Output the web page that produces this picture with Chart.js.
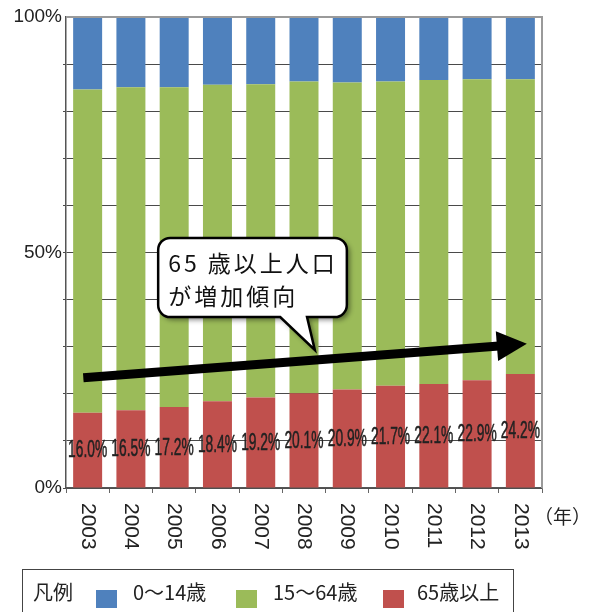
<!DOCTYPE html>
<html>
<head>
<meta charset="utf-8">
<script src="https://cdn.jsdelivr.net/npm/chart.js@4.4.1/dist/chart.umd.min.js"></script>
<style>
  html, body { margin: 0; padding: 0; background: #fff; }
  #wrap { position: relative; width: 592px; height: 612px; overflow: hidden; }
  #legend {
    position: absolute; left: 22px; top: 569px; width: 492px; height: 60px;
    border: 1.5px solid #444; box-sizing: border-box;
    font-family: "Noto Sans CJK JP", sans-serif; font-size: 20px; color: #222;
  }
  #legend span { position: absolute; top: 10px; line-height: 24px; white-space: nowrap; }
  #legend i { position: absolute; top: 20px; width: 21px; height: 18px; }
</style>
</head>
<body>
<div id="wrap">
  <canvas id="ageChart" width="592" height="612"></canvas>
  <div id="legend">
    <span style="left:10px">凡例</span>
    <i style="left:73px;background:#4f81bd"></i>
    <span style="left:110px">0～14歳</span>
    <i style="left:213px;background:#9bbb59"></i>
    <span style="left:250px">15～64歳</span>
    <i style="left:360px;background:#c0504d"></i>
    <span style="left:394px">65歳以上</span>
  </div>
</div>
<script>
// Years on the x axis
const years = ['2003', '2004', '2005', '2006', '2007', '2008', '2009', '2010', '2011', '2012', '2013'];

// Share of population by age group (%)
const age65plus = [16.0, 16.5, 17.2, 18.4, 19.2, 20.1, 20.9, 21.7, 22.1, 22.9, 24.2];
const age15to64 = [68.6, 68.6, 67.9, 67.2, 66.5, 66.2, 65.2, 64.6, 64.5, 63.9, 62.6];
const age0to14 = [15.4, 14.9, 14.9, 14.4, 14.3, 13.7, 13.9, 13.7, 13.4, 13.2, 13.2];

// Y tick labels that are shown
const yTickLabels = [0, 50, 100];

const numFont = '"Liberation Sans", Arial, sans-serif';
const jpFont = '"Noto Sans CJK JP", sans-serif';

// Percent labels inside the red bars, condensed like the original
const redLabels = {
    id: 'redLabels',
    afterDatasetsDraw(chart) {
        const ctx = chart.ctx;
        const meta = chart.getDatasetMeta(0);
        ctx.save();
        ctx.fillStyle = '#222';
        ctx.strokeStyle = '#222';
        ctx.lineWidth = 0.5;
        ctx.font = '23px ' + numFont;
        ctx.textAlign = 'center';
        ctx.textBaseline = 'middle';
        meta.data.forEach((bar, i) => {
            const cy = (bar.y + bar.base) / 2 + 1;
            ctx.save();
            ctx.translate(bar.x, cy);
            ctx.scale(0.6, 1);
            const txt = age65plus[i].toFixed(1) + '%';
            ctx.fillText(txt, 0, 0);
            ctx.strokeText(txt, 0, 0);
            ctx.restore();
        });
        ctx.restore();
    }
};

// Rotated year labels, frame, arrow and callout
const extras = {
    id: 'extras',
    afterDraw(chart) {
        const ctx = chart.ctx;
        const xs = chart.scales.x, ys = chart.scales.y;
        const area = chart.chartArea;
        ctx.save();

        // frame top / right
        ctx.strokeStyle = '#9a9a9a';
        ctx.lineWidth = 2;
        ctx.beginPath();
        ctx.moveTo(area.left, area.top);
        ctx.lineTo(area.right, area.top);
        ctx.lineTo(area.right, area.bottom);
        ctx.stroke();

        // year labels reading top to bottom
        ctx.fillStyle = '#222';
        ctx.font = '21px ' + numFont;
        ctx.textAlign = 'left';
        ctx.textBaseline = 'middle';
        years.forEach((y, i) => {
            ctx.save();
            ctx.translate(xs.getPixelForValue(i), area.bottom + 15);
            ctx.rotate(Math.PI / 2);
            ctx.fillText(y, 0, 0);
            ctx.restore();
        });
        ctx.font = '19px ' + jpFont;
        ctx.fillText('（年）', area.right - 8, area.bottom + 29);

        // trend arrow
        const x0 = xs.getPixelForValue(-0.1), y0 = ys.getPixelForValue(23.4);
        const x1 = xs.getPixelForValue(10.15), y1 = ys.getPixelForValue(30.6);
        const ang = Math.atan2(y1 - y0, x1 - x0);
        const headLen = 30, headW = 15;
        const bx = x1 - headLen * Math.cos(ang), by = y1 - headLen * Math.sin(ang);
        ctx.strokeStyle = '#000';
        ctx.lineWidth = 9;
        ctx.beginPath();
        ctx.moveTo(x0, y0);
        ctx.lineTo(bx + 2 * Math.cos(ang), by + 2 * Math.sin(ang));
        ctx.stroke();
        ctx.fillStyle = '#000';
        ctx.beginPath();
        ctx.moveTo(x1, y1);
        ctx.lineTo(bx + headW * Math.sin(ang), by - headW * Math.cos(ang));
        ctx.lineTo(bx - headW * Math.sin(ang), by + headW * Math.cos(ang));
        ctx.closePath();
        ctx.fill();

        // callout bubble
        const L = xs.getPixelForValue(1.63), R = xs.getPixelForValue(5.99);
        const T = ys.getPixelForValue(53.1), B = ys.getPixelForValue(36.3);
        const r = 12;
        const t1 = xs.getPixelForValue(4.45), t2 = xs.getPixelForValue(5.07);
        const tipX = xs.getPixelForValue(5.25), tipY = ys.getPixelForValue(29.3);
        ctx.beginPath();
        ctx.moveTo(L + r, T);
        ctx.lineTo(R - r, T);
        ctx.arcTo(R, T, R, T + r, r);
        ctx.lineTo(R, B - r);
        ctx.arcTo(R, B, R - r, B, r);
        ctx.lineTo(t2, B);
        ctx.lineTo(tipX, tipY);
        ctx.lineTo(t1, B);
        ctx.lineTo(L + r, B);
        ctx.arcTo(L, B, L, B - r, r);
        ctx.lineTo(L, T + r);
        ctx.arcTo(L, T, L + r, T, r);
        ctx.closePath();
        ctx.save();
        ctx.shadowColor = 'rgba(0,0,0,0.45)';
        ctx.shadowBlur = 5;
        ctx.shadowOffsetX = 3;
        ctx.shadowOffsetY = 3;
        ctx.fillStyle = '#fff';
        ctx.fill();
        ctx.restore();
        ctx.lineWidth = 2.5;
        ctx.strokeStyle = '#000';
        ctx.stroke();

        ctx.fillStyle = '#111';
        ctx.font = '23px ' + jpFont;
        ctx.letterSpacing = '3px';
        ctx.textAlign = 'left';
        ctx.textBaseline = 'middle';
        ctx.fillText('65 歳以上人口', L + 10, T + 25);
        ctx.fillText('が増加傾向', L + 10, T + 58);
        ctx.restore();
    }
};

const ctx = document.getElementById('ageChart').getContext('2d');
new Chart(ctx, {
    type: 'bar',
    data: {
        labels: years,
        datasets: [
            { label: '65歳以上', data: age65plus, backgroundColor: '#c0504d' },
            { label: '15～64歳', data: age15to64, backgroundColor: '#9bbb59' },
            { label: '0～14歳', data: age0to14, backgroundColor: '#4f81bd' }
        ]
    },
    options: {
        responsive: false,
        animation: false,
        events: [],
        layout: { padding: { top: 17, right: 50, left: 0, bottom: 0 } },
        datasets: {
            bar: { barPercentage: 0.67, categoryPercentage: 1.0 }
        },
        plugins: {
            legend: { display: false },
            tooltip: { enabled: false }
        },
        scales: {
            x: {
                stacked: true,
                afterFit: s => { s.height = 124; },
                grid: {
                    offset: true,
                    drawOnChartArea: false,
                    drawTicks: true,
                    tickLength: 5,
                    color: '#666'
                },
                border: { color: '#555', width: 1.5 },
                ticks: { display: false }
            },
            y: {
                stacked: true,
                min: 0,
                max: 100,
                afterFit: s => { s.width = 66; },
                grid: {
                    color: ctx => ctx.tick.value === 100 ? 'rgba(0,0,0,0)' : '#4a4a4a',
                    lineWidth: 1,
                    drawTicks: true,
                    tickLength: 3
                },
                border: { color: '#555', width: 1.5 },
                ticks: {
                    stepSize: 10,
                    padding: 1,
                    color: '#222',
                    font: { family: numFont, size: 19 },
                    callback: v => yTickLabels.includes(v) ? v + '%' : ''
                }
            }
        }
    },
    plugins: [redLabels, extras]
});
</script>
</body>
</html>
